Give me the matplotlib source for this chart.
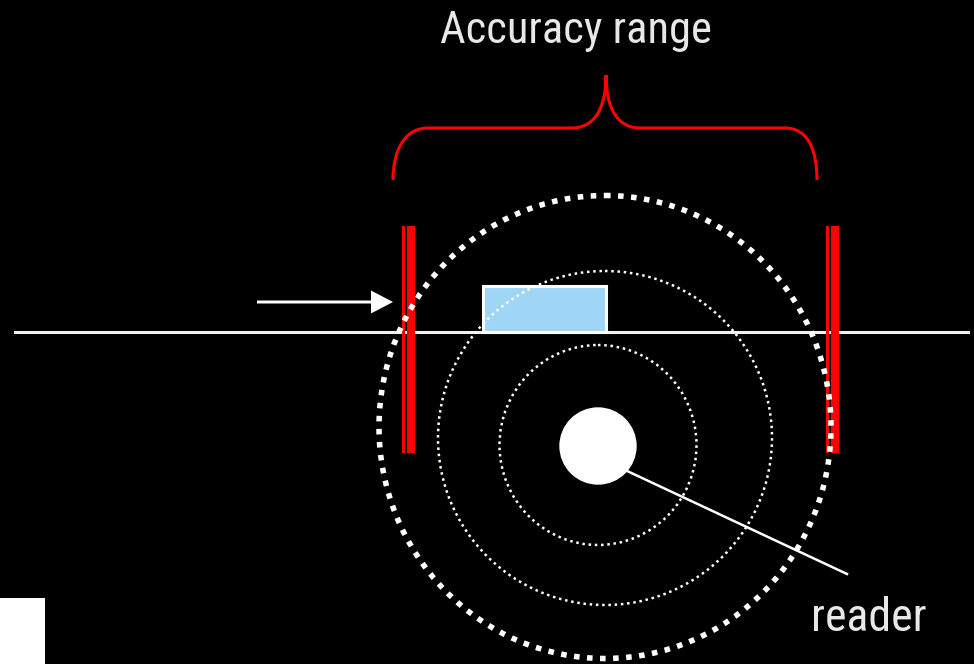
import matplotlib
matplotlib.use('Agg')
from matplotlib import pyplot as plt
from matplotlib.patches import Ellipse, Rectangle, Circle, PathPatch, FancyArrow
from matplotlib.path import Path

# diagram geometry in picture pixels (x right, y down)
title = "Accuracy range"
reader_label = "reader"

ring_centers = [(605, 427), (605, 438), (598, 445)]
ring_sizes = [(452, 463), (334, 334), (197, 200)]
ring_widths = [4.0, 1.8, 1.8]
ring_dashes = [(0, (1, 1.35)), (0, (1, 1.5)), (0, (1, 1.5))]

reader_center = (598, 446)
reader_radius = 38

bars_x = [(402, 404.5, 407, 414.5), (826, 828.5, 831, 838.5)]
bars_y = (226, 453)

ground_y = 332
ground_x = (15, 968)

tag_box = (483, 286, 123, 46)

arrow_from = (257, 302)
arrow_to = (393, 302)

leader = [(625, 470), (847, 574)]

brace_left, brace_mid, brace_right = 393, 606, 817
brace_bottom, brace_flat, brace_top = 180, 128, 75

fig = plt.figure(figsize=(9.74, 6.64), dpi=100)
fig.patch.set_facecolor('black')
ax = fig.add_axes([0, 0, 1, 1])
ax.set_facecolor('black')
ax.set_xlim(0, 974)
ax.set_ylim(664, 0)
ax.axis('off')

# ground line
ax.plot(ground_x, [ground_y, ground_y], color='#f2f2f2', lw=2.2, zorder=1)

# tag box
ax.add_patch(Rectangle(tag_box[:2], tag_box[2], tag_box[3], facecolor='#a0d6f5',
                       edgecolor='white', lw=2.2, zorder=2))

# red bars
for x0, x1, x2, x3 in bars_x:
    ax.add_patch(Rectangle((x0, bars_y[0]), x1 - x0, bars_y[1] - bars_y[0], color='#ff0000', lw=0, zorder=3))
    ax.add_patch(Rectangle((x2, bars_y[0]), x3 - x2, bars_y[1] - bars_y[0], color='#ff0000', lw=0, zorder=3))

# rings
for c, s, w, d in zip(ring_centers, ring_sizes, ring_widths, ring_dashes):
    ax.add_patch(Ellipse(c, s[0], s[1], fill=False, edgecolor='white', lw=w,
                         linestyle=d, zorder=4))
ax.add_patch(Circle(reader_center, reader_radius, color='white', zorder=5))

# leader line to label
ax.plot([leader[0][0], leader[1][0]], [leader[0][1], leader[1][1]], color='white', lw=1.8, zorder=5)

# arrow
ax.add_patch(FancyArrow(arrow_from[0], arrow_from[1], arrow_to[0] - arrow_from[0], 0,
                        width=3, head_width=23, head_length=22, length_includes_head=True,
                        color='white', lw=0, zorder=5))

# brace
verts = [(brace_left, brace_bottom),
         (brace_left, 150), (405, brace_flat), (428, brace_flat),
         (572, brace_flat),
         (592, brace_flat), (brace_mid, 112), (brace_mid, brace_top),
         (brace_mid, 112), (620, brace_flat), (640, brace_flat),
         (785, brace_flat),
         (808, brace_flat), (brace_right, 150), (brace_right, brace_bottom)]
codes = [Path.MOVETO,
         Path.CURVE4, Path.CURVE4, Path.CURVE4,
         Path.LINETO,
         Path.CURVE4, Path.CURVE4, Path.CURVE4,
         Path.CURVE4, Path.CURVE4, Path.CURVE4,
         Path.LINETO,
         Path.CURVE4, Path.CURVE4, Path.CURVE4]
ax.add_patch(PathPatch(Path(verts, codes), fill=False, edgecolor='#ff0000', lw=2.2, zorder=5))

fam = ['Roboto Condensed', 'Open Sans Condensed', 'Lato', 'DejaVu Sans']
ax.text(576, 43, title, color='#e8e8e8', fontsize=32, family=fam,
        ha='center', va='baseline')
ax.text(869, 631, reader_label, color='#e8e8e8', fontsize=33, family=fam,
        ha='center', va='baseline')

# white square corner
ax.add_patch(Rectangle((0, 598), 45, 66, color='white', lw=0, zorder=6))

fig.savefig('out.png', dpi=100, facecolor='black')
